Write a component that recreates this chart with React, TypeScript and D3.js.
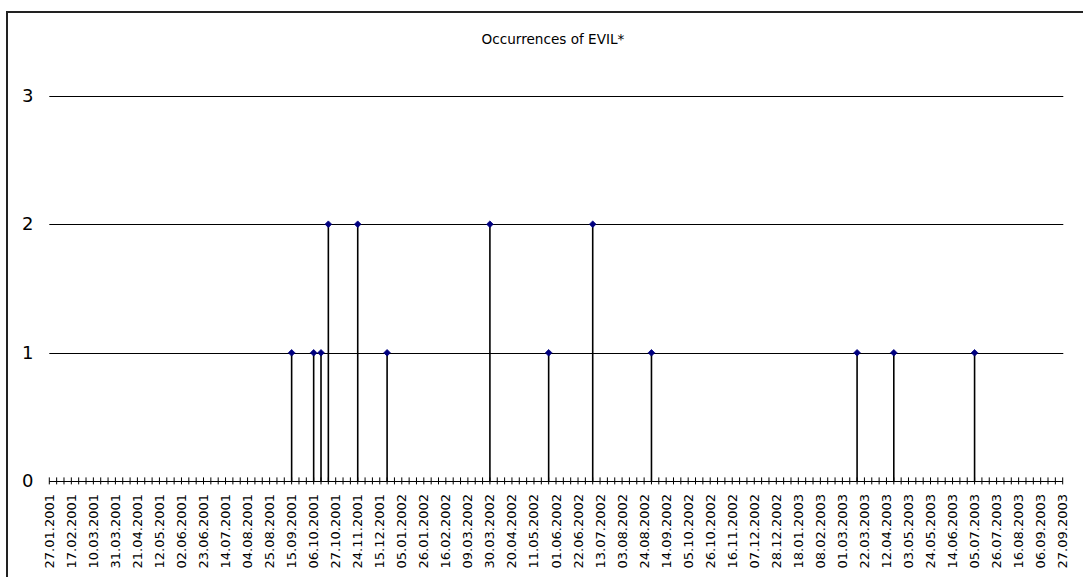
import React from "react";
import * as d3 from "d3";

// Weekly categories (Saturdays); one week (10.11.2001) is absent in the source sheet
const firstWeek = new Date(2001, 0, 27);
const afterLastWeek = new Date(2003, 8, 28);
const missingWeeks = ["10.11.2001"];

const tickLabels = [
  "27.01.2001", "17.02.2001", "10.03.2001", "31.03.2001", "21.04.2001", "12.05.2001",
  "02.06.2001", "23.06.2001", "14.07.2001", "04.08.2001", "25.08.2001", "15.09.2001",
  "06.10.2001", "27.10.2001", "24.11.2001", "15.12.2001", "05.01.2002", "26.01.2002",
  "16.02.2002", "09.03.2002", "30.03.2002", "20.04.2002", "11.05.2002", "01.06.2002",
  "22.06.2002", "13.07.2002", "03.08.2002", "24.08.2002", "14.09.2002", "05.10.2002",
  "26.10.2002", "16.11.2002", "07.12.2002", "28.12.2002", "18.01.2003", "08.02.2003",
  "01.03.2003", "22.03.2003", "12.04.2003", "03.05.2003", "24.05.2003", "14.06.2003",
  "05.07.2003", "26.07.2003", "16.08.2003", "06.09.2003", "27.09.2003",
];

const occurrenceWeeks = [
  "15.09.2001", "06.10.2001", "13.10.2001", "20.10.2001", "24.11.2001", "22.12.2001",
  "30.03.2002", "25.05.2002", "06.07.2002", "31.08.2002", "15.03.2003", "19.04.2003",
  "05.07.2003",
];
const occurrenceCounts = [1, 1, 1, 2, 2, 1, 2, 1, 2, 1, 1, 1, 1];

const yTicks = [0, 1, 2, 3];
const title = "Occurrences of EVIL*";

const W = 1083;
const H = 577;
const fmt = d3.timeFormat("%d.%m.%Y");

export default function App() {
  const weeks = d3.timeSaturday
    .range(firstWeek, afterLastWeek)
    .map(fmt)
    .filter((w) => !missingWeeks.includes(w));

  const x = d3.scalePoint<string>().domain(weeks).range([49.3, 1062.7]);
  const y = d3.scaleLinear().domain([0, 3]).range([481.4, 95.6]);
  const x0 = x(weeks[0])!;
  const x1 = x(weeks[weeks.length - 1])!;
  const font = "DejaVu Sans, Verdana, sans-serif";

  const diamond = (cx: number, cy: number, r: number) =>
    `M${cx},${cy - r}L${cx + r},${cy}L${cx},${cy + r}L${cx - r},${cy}Z`;

  return (
    <svg
      width={W}
      height={H}
      style={{ position: "absolute", left: 0, top: 0, background: "#fff" }}
    >
      <rect x={0} y={0} width={W} height={H} fill="#fff" />
      {/* chart area border */}
      <rect x={7} y={12} width={W + 20} height={H + 20} fill="none" stroke="#222" strokeWidth={2} />

      <text
        x={553}
        y={44}
        textAnchor="middle"
        fontFamily={font}
        fontSize={13.6}
        fill="#000"
      >
        {title}
      </text>

      {/* horizontal gridlines */}
      {yTicks.filter((t) => t > 0).map((t) => (
        <line
          key={"g" + t}
          x1={x0}
          x2={x1 + 0.6}
          y1={Math.round(y(t)) + 0.5}
          y2={Math.round(y(t)) + 0.5}
          stroke="#000"
          strokeWidth={1}
        />
      ))}

      {/* y labels */}
      {yTicks.map((t) => (
        <text
          key={"yl" + t}
          x={33.5}
          y={y(t) + 1}
          textAnchor="end"
          dominantBaseline="middle"
          fontFamily={font}
          fontSize={18}
          fill="#000"
        >
          {t}
        </text>
      ))}

      {/* category axis */}
      <line
        x1={x0}
        x2={x1}
        y1={Math.round(y(0)) + 0.5}
        y2={Math.round(y(0)) + 0.5}
        stroke="#000"
        strokeWidth={1}
      />
      {weeks.map((w) => (
        <line
          key={"t" + w}
          x1={x(w)!}
          x2={x(w)!}
          y1={y(0) - 4}
          y2={y(0) + 3}
          stroke="#000"
          strokeWidth={1}
        />
      ))}
      {tickLabels.map((l) => (
        <text
          key={"xl" + l}
          transform={`translate(${x(l)!},${494}) rotate(-90)`}
          textAnchor="end"
          dominantBaseline="central"
          fontFamily={font}
          fontSize={13}
          fill="#000"
        >
          {l}
        </text>
      ))}

      {/* drop lines */}
      {occurrenceWeeks.map((w, i) => (
        <line
          key={"s" + w}
          x1={x(w)!}
          x2={x(w)!}
          y1={y(0)}
          y2={y(occurrenceCounts[i])}
          stroke="#000"
          strokeWidth={1.6}
        />
      ))}
      {/* markers */}
      {occurrenceWeeks.map((w, i) => (
        <path
          key={"m" + w}
          d={diamond(x(w)!, y(occurrenceCounts[i]), 3.3)}
          fill="#000080"
          stroke="#000080"
          strokeWidth={0.8}
        />
      ))}
    </svg>
  );
}
